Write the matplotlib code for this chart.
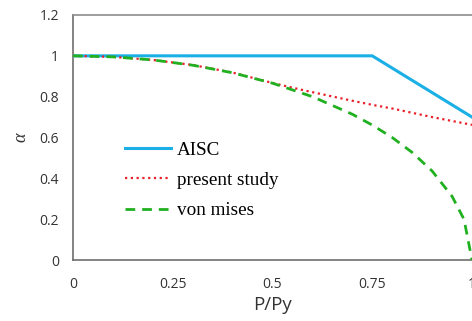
import matplotlib.pyplot as plt

# data
x_aisc = [0, 0.75, 0.8, 0.9, 1.0]
y_aisc = [1.0, 1.0, 0.94, 0.82, 0.70]

x_study = [0, 0.1, 0.2, 0.3, 0.4, 0.5, 0.57, 0.6, 0.7, 0.75, 0.8, 0.9, 1.0]
y_study = [1.0, 0.995, 0.98, 0.955, 0.918, 0.867, 0.835, 0.822, 0.78, 0.76, 0.742, 0.70, 0.662]

x_mises = [0, 0.1, 0.2, 0.3, 0.4, 0.5, 0.6, 0.7, 0.75, 0.8, 0.85, 0.9, 0.95, 0.98, 1.0]
y_mises = [1.0, 0.995, 0.98, 0.954, 0.917, 0.866, 0.80, 0.714, 0.661, 0.60, 0.527, 0.436, 0.312, 0.199, 0.0]

xticks = [0, 0.25, 0.5, 0.75, 1]
xticklabels = ['0', '0.25', '0.5', '0.75', '1']
yticks = [0, 0.2, 0.4, 0.6, 0.8, 1.0, 1.2]
yticklabels = ['0', '0.2', '0.4', '0.6', '0.8', '1', '1.2']

fig = plt.figure(figsize=(4.72, 3.21), dpi=100)
ax = fig.add_axes([73 / 472, 1 - 260 / 321, 399 / 472, 245 / 321])

ax.plot(x_aisc, y_aisc, color='#1ab0e6', lw=2.2, label='AISC', zorder=3)
ax.plot(x_study, y_study, color='#e8202a', lw=1.6, linestyle=(0, (1, 1.6)), label='present study', zorder=4)
ax.plot(x_mises, y_mises, color='#20b020', lw=2.0, linestyle=(0, (3.5, 2.5)), label='von mises', zorder=5)

ax.set_xlim(0, 1)
ax.set_ylim(0, 1.2)
ax.set_xticks(xticks)
ax.set_xticklabels(xticklabels)
ax.set_yticks(yticks)
ax.set_yticklabels(yticklabels)
ax.tick_params(length=0, labelsize=10, colors='#333333')
ax.tick_params(axis='x', pad=12)
ax.tick_params(axis='y', pad=10)
for t in ax.get_xticklabels() + ax.get_yticklabels():
    t.set_family('Open Sans')

for s in ['left', 'bottom']:
    ax.spines[s].set_color('#6e6e6e')
    ax.spines[s].set_linewidth(1.2)
ax.spines['top'].set_color('#8c8c8c')
ax.spines['top'].set_linewidth(1.2)
ax.spines['right'].set_visible(False)

ax.set_xlabel('P/Py', fontsize=13.5, family='Open Sans', color='#333333', labelpad=3)
ax.set_ylabel('α', fontsize=13, family='Liberation Serif', style='italic', color='#333333', labelpad=7)

ax.legend(loc='upper left', bbox_to_anchor=(0.13, 0.485), frameon=False,
          prop={'family': 'Liberation Serif', 'size': 13.8},
          borderpad=0, borderaxespad=0,
          handlelength=2.4, handletextpad=0.3, labelspacing=0.68)

fig.savefig('out.png', dpi=100)
